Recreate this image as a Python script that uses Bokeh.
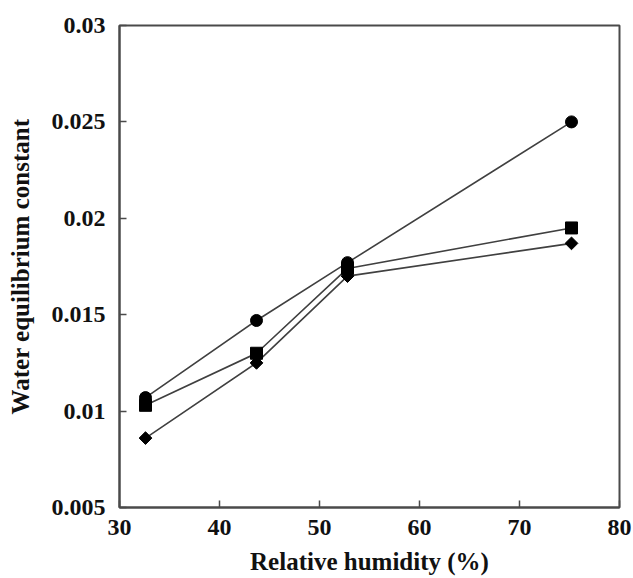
import math
from bokeh.plotting import figure
from bokeh.models import FixedTicker, Range1d
from bokeh.embed import file_html
from bokeh.resources import INLINE

# Relative humidity (%) of the storage conditions
humidity = [32.6, 43.7, 52.8, 75.2]

# Water equilibrium constant for the three samples
series_circle = [0.0107, 0.0147, 0.0177, 0.0250]
series_square = [0.0103, 0.0130, 0.0174, 0.0195]
series_diamond = [0.0086, 0.0125, 0.0170, 0.0187]

x_ticks = [30, 40, 50, 60, 70, 80]
y_ticks = [0.005, 0.01, 0.015, 0.02, 0.025, 0.03]
y_tick_labels = ["0.005", "0.01", "0.015", "0.02", "0.025", "0.03"]

FONT = "Liberation Serif"
AXIS_COLOR = "#4a4a4a"

p = figure(width=633, height=578, output_backend="svg", toolbar_location=None,
           x_range=Range1d(30, 80), y_range=Range1d(0.005, 0.03))
p.min_border_left = 119
p.min_border_right = 14
p.min_border_top = 25
p.min_border_bottom = 71
p.grid.visible = False
p.background_fill_color = "white"
p.border_fill_color = "white"
p.outline_line_color = AXIS_COLOR
p.outline_line_width = 2

for ax in (p.xaxis[0], p.yaxis[0]):
    ax.axis_line_color = AXIS_COLOR
    ax.axis_line_width = 2
    ax.major_tick_line_color = AXIS_COLOR
    ax.major_tick_line_width = 1.5
    ax.major_tick_in = 7
    ax.major_tick_out = 0
    ax.minor_tick_line_color = None
    ax.major_label_text_font = FONT
    ax.major_label_text_font_style = "bold"
    ax.major_label_text_font_size = "24px"
    ax.major_label_text_color = "#111111"
    ax.axis_label_text_font = FONT
    ax.axis_label_text_font_style = "bold"
    ax.axis_label_text_font_size = "25px"
    ax.axis_label_text_color = "#111111"

p.xaxis.ticker = FixedTicker(ticks=x_ticks)
p.yaxis.ticker = FixedTicker(ticks=y_ticks)
p.yaxis.major_label_overrides = {t: lab for t, lab in zip(y_ticks, y_tick_labels)}
p.xaxis.major_label_standoff = 12
p.yaxis.major_label_standoff = 14
p.xaxis.axis_label = "Relative humidity (%)"
p.yaxis.axis_label = "Water equilibrium constant"
p.xaxis.axis_label_standoff = 10
p.yaxis.axis_label_standoff = 15

LINE = "#404040"
p.line(humidity, series_circle, line_color=LINE, line_width=1.6)
p.line(humidity, series_square, line_color=LINE, line_width=1.6)
p.line(humidity, series_diamond, line_color=LINE, line_width=1.6)

p.scatter(humidity, series_circle, marker="circle", size=12,
          fill_color="black", line_color="black")
p.scatter(humidity, series_square, marker="square", size=12,
          fill_color="black", line_color="black")
p.scatter(humidity, series_diamond, marker="square", size=9, angle=math.pi / 4,
          fill_color="black", line_color="black")

open("out.html", "w").write(file_html(p, INLINE))
